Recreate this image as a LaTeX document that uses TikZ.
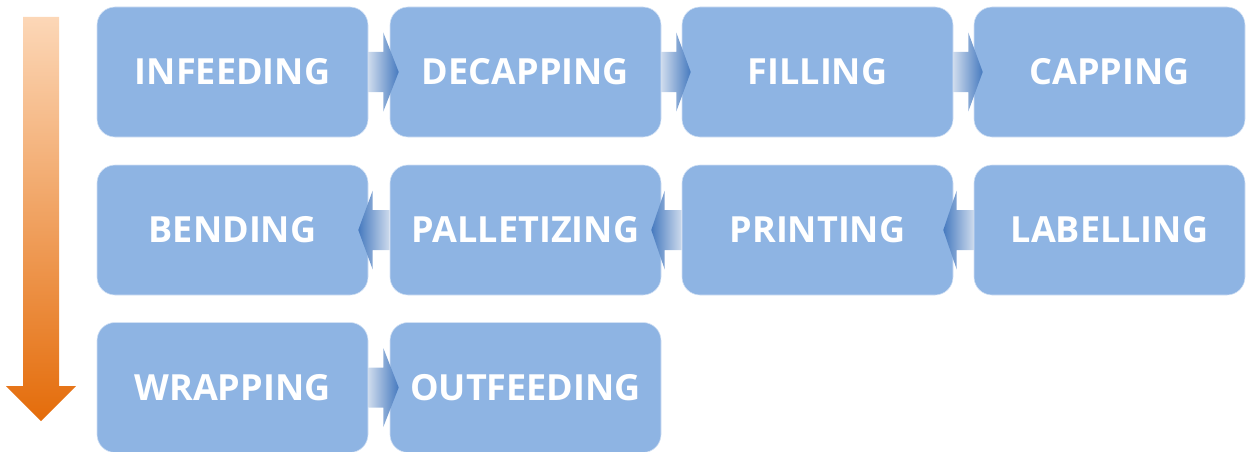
\documentclass[tikz,border=0pt]{standalone}
\usepackage{fontspec}
\setmainfont{Open Sans}
\usetikzlibrary{calc}
\definecolor{boxblue}{RGB}{142,180,227}
\definecolor{linkpale}{RGB}{206,219,237}
\definecolor{linkdark}{RGB}{70,122,191}
\definecolor{flowlight}{RGB}{252,215,183}
\definecolor{flowdark}{RGB}{228,108,10}

\begin{document}
\begin{tikzpicture}[x=1pt,y=1pt,
        stage/.style={fill=boxblue, draw=white!60!boxblue, line width=0.6pt, rounded corners=18pt,
            minimum width=271pt, minimum height=130pt, inner sep=0pt,
            text=white, font=\fontsize{36}{42}\selectfont\bfseries},
        linkright/.style={left color=linkpale, right color=linkdark},
        linkleft/.style={left color=linkdark, right color=linkpale}]
        \useasboundingbox (0,0) rectangle (1247,451);

        \shade[top color=flowlight, bottom color=flowdark](23,434)--(59,434)--(59,65)--(76,65)--(41,30)--(6,65)--(23,65)--cycle;

        \node[stage] (infeed) at (232.5,379) {INFEEDING};
        \node[stage] (decap) at (525.5,379) {DECAPPING};
        \node[stage] (fill) at (817.5,379) {FILLING};
        \node[stage] (cap) at (1109.5,379) {CAPPING};

        \node[stage] (bend) at (232.5,221) {BENDING};
        \node[stage] (pallet) at (525.5,221) {PALLETIZING};
        \node[stage] (print) at (817.5,221) {PRINTING};
        \node[stage] (label) at (1109.5,221) {LABELLING};

        \node[stage] (wrap) at (232.5,63.5) {WRAPPING};
        \node[stage] (outfeed) at (525.5,63.5) {OUTFEEDING};

        \foreach \a/\b in {infeed/decap, decap/fill, fill/cap, wrap/outfeed}
            \shade[linkright]([yshift=20pt]\a.east)--([xshift=15pt,yshift=20pt]\a.east)--([xshift=15pt,yshift=39.5pt]\a.east)
                --([xshift=9pt]\b.west)--([xshift=15pt,yshift=-39.5pt]\a.east)--([xshift=15pt,yshift=-20pt]\a.east)--([yshift=-20pt]\a.east)--cycle;
        \foreach \a/\b in {label/print, print/pallet, pallet/bend}
            \shade[linkleft]([yshift=20pt]\a.west)--([xshift=-17pt,yshift=20pt]\a.west)--([xshift=-17pt,yshift=39.5pt]\a.west)
                --([xshift=-10pt]\b.east)--([xshift=-17pt,yshift=-39.5pt]\a.west)--([xshift=-17pt,yshift=-20pt]\a.west)--([yshift=-20pt]\a.west)--cycle;
    \end{tikzpicture}
\end{document}
